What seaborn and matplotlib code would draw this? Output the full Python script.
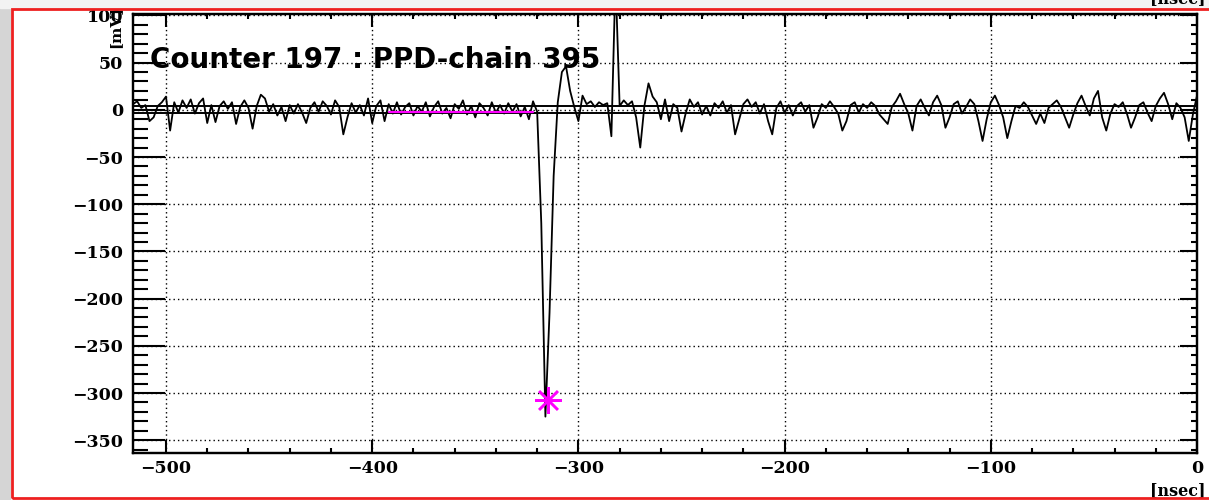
"""
Waveform of one PPD-chain channel, drawn in the old ROOT canvas look.
"""
import numpy as np
import pandas as pd
import matplotlib
matplotlib.use("Agg")
from matplotlib import pyplot as plt
from matplotlib.patches import Rectangle
from matplotlib.ticker import MultipleLocator
import seaborn as sns

# Waveform, one sample every 2 ns starting at -516 ns (mV)
t_first = -516
t_step = 2
amp_mv = [
    6, 9, 2, 5, -12, -8, 4, 8, 14, -22,
    8, -3, 10, 2, 11, -4, 7, 12, -14, 5,
    -13, 4, 9, 1, 8, -15, 3, 10, 2, -20,
    4, 16, 12, -2, 6, -6, 3, -12, 5, -4,
    6, -3, -14, 2, 8, -2, 9, 4, -5, 10,
    3, -26, -8, 7, -3, 5, -6, 12, -14, 4,
    10, -12, 6, -4, 8, -5, 3, 7, -6, 4,
    -2, 8, -7, 3, 9, -4, 2, -9, 6, 1,
    10, -5, 4, -8, 7, 2, -6, 8, -3, 5,
    -4, 7, -2, 6, -7, 3, -10, 9, -2, -120,
    -325, -215, -70, 8, 40, 46, 20, 3, -12, 15,
    6, 9, 3, 8, 5, 7, -28, 140, 4, 10,
    5, 9, -8, -40, 4, 28, 14, 8, -10, 11,
    -12, 6, 2, -23, -4, 11, 3, 8, -5, 4,
    -6, 7, 2, 9, -3, 5, -26, -10, 6, 11,
    3, 8, -4, 6, -12, -26, 2, 9, -3, 5,
    -6, 4, 8, -2, 5, -19, -8, 6, 2, 9,
    3, -4, -22, -12, 5, 8, -3, 6, 2, 8,
    4, -5, -10, -15, 3, 9, 17, 6, -4, -22,
    4, 11, 2, -6, 8, 15, 5, -19, -8, 6,
    9, -4, 3, 11, 6, -12, -33, -10, 8, 15,
    5, -8, -30, -12, 4, 2, 8, 3, -6, -15,
    -4, -14, 2, 6, 10, 3, -8, -19, -5, 7,
    15, 4, -6, 12, 20, -8, -22, -4, 6, 3,
    8, -4, -19, -8, 5, 8, -3, -12, 4, 12,
    18, 6, -10, 7, 2, -8, -33, -5, 15,
]
time_ns = t_first + t_step * np.arange(len(amp_mv))

# Baseline band (mV), baseline fit window and fitted pulse peak
band_mv = [4.5, -3.5]
fit_ns = [-392, -322]
fit_mv = [-2.5, -2.5]
peak_ns = [-314.5]
peak_mv = [-307]

W, H = 1209, 500

sns.set_style("white")
plt.rcParams["font.family"] = ["DejaVu Serif"]
plt.rcParams["font.weight"] = "bold"
plt.rcParams["text.color"] = "black"
plt.rcParams["xtick.color"] = "black"
plt.rcParams["ytick.color"] = "black"
plt.rcParams["axes.unicode_minus"] = True

fig = plt.figure(figsize=(W / 100, H / 100), dpi=100)
fig.patch.set_facecolor("white")

# Canvas decorations: grey window edge and red pad border
fig.patches.append(Rectangle((0, 0), 10 / W, 1, transform=fig.transFigure,
                             color="#d5d5d5", zorder=-5))
fig.patches.append(Rectangle((0, 1 - 8 / H), 1, 8 / H, transform=fig.transFigure,
                             color="#f3f3f3", zorder=-5))
fig.patches.append(Rectangle((11.5 / W, 2 / H), 1.1, 1 - 10.5 / H,
                             transform=fig.transFigure, fill=False,
                             edgecolor="#ee2020", lw=2.0, zorder=5))

ax = fig.add_axes([133 / W, 1 - 452.5 / H, 1064 / W, 439 / H])

df = pd.DataFrame({"time": time_ns, "amp": amp_mv})
sns.lineplot(data=df, x="time", y="amp", ax=ax, color="black", lw=1.3,
             estimator=None, sort=False, legend=False, zorder=3)

for level in band_mv:
    ax.axhline(level, color="black", lw=1.4, zorder=4)

sns.lineplot(x=fit_ns, y=fit_mv, ax=ax, color="#ff00ff", lw=1.6,
             estimator=None, legend=False, zorder=5)
ax.plot(peak_ns, peak_mv, linestyle="none", marker=(8, 2, 0), markersize=19,
        markeredgewidth=1.8, color="#ff00ff", zorder=6)

# Axes
ax.set_xlim(-516, 0)
ax.set_ylim(-363, 102)
ax.set_xlabel("")
ax.set_ylabel("")
ax.xaxis.set_major_locator(MultipleLocator(100))
ax.xaxis.set_minor_locator(MultipleLocator(20))
ax.yaxis.set_major_locator(MultipleLocator(50))
ax.yaxis.set_minor_locator(MultipleLocator(10))
ax.grid(True, which="major", color="black", lw=1.0, linestyle=(0, (1, 2.2)))
for side in ax.spines.values():
    side.set_linewidth(1.6)
    side.set_color("black")

ax.tick_params(axis="y", which="major", direction="in", length=23, width=1.5,
               left=True, right=False, pad=7, labelsize=12.5)
ax.tick_params(axis="y", which="minor", direction="in", length=11, width=1.5,
               left=True, right=False)
ax.tick_params(axis="x", which="major", direction="in", length=9.5, width=1.5,
               top=True, bottom=True, pad=5.5, labelsize=12.5)
ax.tick_params(axis="x", which="minor", direction="in", length=3.5, width=1.5,
               top=True, bottom=True)

# Right-hand ticks are shorter, as in the ROOT frame
tw = ax.twinx()
tw.set_ylim(ax.get_ylim())
tw.yaxis.set_major_locator(MultipleLocator(50))
tw.yaxis.set_minor_locator(MultipleLocator(10))
tw.tick_params(axis="y", which="major", direction="in", length=12, width=1.5,
               labelright=False)
tw.tick_params(axis="y", which="minor", direction="in", length=4, width=1.5)
for side in tw.spines.values():
    side.set_linewidth(1.6)
    side.set_color("black")

# Texts
fig.text(150 / W, 1 - 68 / H, "Counter 197 : PPD-chain 395",
         family=["DejaVu Sans"], weight="bold", fontsize=20,
         color="black", ha="left", va="baseline")
fig.text(115 / W, 1 - 6 / H, "[mV]", rotation=90, fontsize=11, ha="center", va="top")
fig.text(1206 / W, 1 - 495 / H, "[nsec]", fontsize=11.5, ha="right", va="baseline")
fig.text(1206 / W, 1 - 3 / H, "[nsec]", fontsize=11.5, ha="right", va="baseline")

fig.savefig("out.png", dpi=100)
